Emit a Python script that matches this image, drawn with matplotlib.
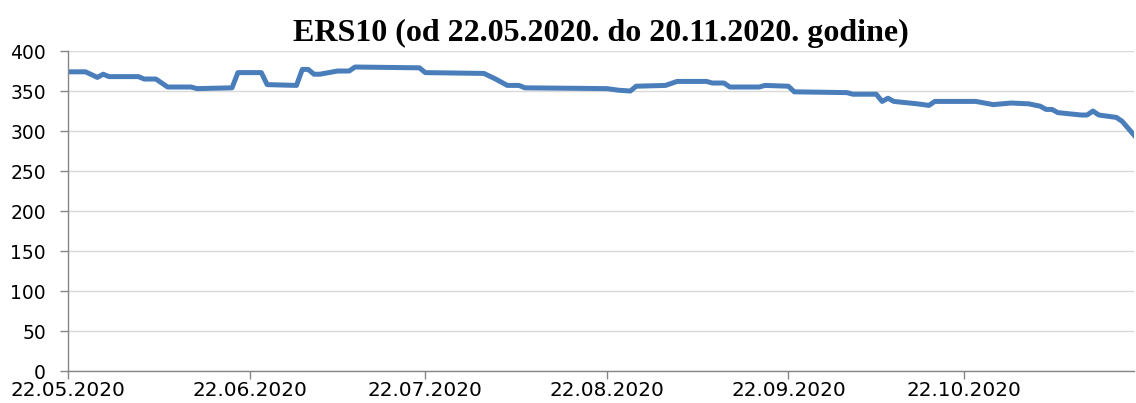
import matplotlib
matplotlib.use("Agg")
import matplotlib.pyplot as plt
import matplotlib.dates as mdates
import pandas as pd

DATES = [
    "2020-05-22", "2020-05-25", "2020-05-27", "2020-05-28", "2020-05-29",
    "2020-06-03", "2020-06-04", "2020-06-06", "2020-06-08", "2020-06-12",
    "2020-06-13", "2020-06-19", "2020-06-20", "2020-06-24", "2020-06-25",
    "2020-06-30", "2020-07-01", "2020-07-02", "2020-07-03", "2020-07-04",
    "2020-07-07", "2020-07-09", "2020-07-10", "2020-07-21", "2020-07-22",
    "2020-08-01", "2020-08-03", "2020-08-05", "2020-08-07", "2020-08-08",
    "2020-08-22", "2020-08-24", "2020-08-26", "2020-08-27", "2020-09-01",
    "2020-09-03", "2020-09-08", "2020-09-09", "2020-09-11", "2020-09-12",
    "2020-09-17", "2020-09-18", "2020-09-22", "2020-09-23", "2020-10-02",
    "2020-10-03", "2020-10-07", "2020-10-08", "2020-10-09", "2020-10-10",
    "2020-10-14", "2020-10-16", "2020-10-17", "2020-10-24", "2020-10-27",
    "2020-10-30", "2020-11-02", "2020-11-04", "2020-11-05", "2020-11-06",
    "2020-11-07", "2020-11-11", "2020-11-12", "2020-11-13", "2020-11-14",
    "2020-11-17", "2020-11-18", "2020-11-20",
]
VALUES = [
    374, 374, 367, 371, 368,
    368, 365, 365, 355, 355,
    353, 354, 373, 373, 358,
    357, 377, 377, 371, 371,
    375, 375, 380, 379, 373,
    372, 365, 357, 357, 354,
    353, 351, 350, 356, 357,
    362, 362, 360, 360, 355,
    355, 357, 356, 349, 348,
    346, 346, 337, 341, 337,
    334, 332, 337, 337, 333,
    335, 334, 331, 327, 327,
    323, 320, 320, 325, 320,
    317, 312, 295,
]
TICK_DATES = ["2020-05-22", "2020-06-22", "2020-07-22", "2020-08-22",
              "2020-09-22", "2020-10-22"]
TITLE = "ERS10 (od 22.05.2020. do 20.11.2020. godine)"


def main():
    x = pd.to_datetime(DATES)
    ticks = pd.to_datetime(TICK_DATES)

    fig = plt.figure(figsize=(11.36, 4.03), dpi=100)
    ax = fig.add_axes([0.0599, 0.0794, 0.9383, 0.7940])

    ax.plot(x, VALUES, color="#4a7ebb", lw=3.6, solid_joinstyle="round")

    ax.set_xlim(pd.Timestamp("2020-05-22"), pd.Timestamp("2020-11-20"))
    ax.set_ylim(0, 400)
    ax.set_yticks(range(0, 401, 50))
    ax.set_xticks(ticks)
    ax.xaxis.set_major_formatter(mdates.DateFormatter("%d.%m.%Y"))

    ax.grid(axis="y", color="#d9d9d9", lw=1.0)
    ax.set_axisbelow(True)
    for side in ("top", "right"):
        ax.spines[side].set_visible(False)
    for side in ("left", "bottom"):
        ax.spines[side].set_color("#868686")
        ax.spines[side].set_linewidth(1.0)

    ax.tick_params(axis="both", colors="#868686", length=6, width=1.0,
                   labelcolor="black")
    ax.tick_params(axis="y", pad=10, labelsize=13.5)
    ax.tick_params(axis="x", pad=1.5, labelsize=14.4)

    ax.set_title(TITLE, fontsize=23, fontweight="bold",
                 family="Liberation Serif", pad=7)

    fig.savefig("out.png", dpi=100)
    plt.close(fig)


if __name__ == "__main__":
    main()
